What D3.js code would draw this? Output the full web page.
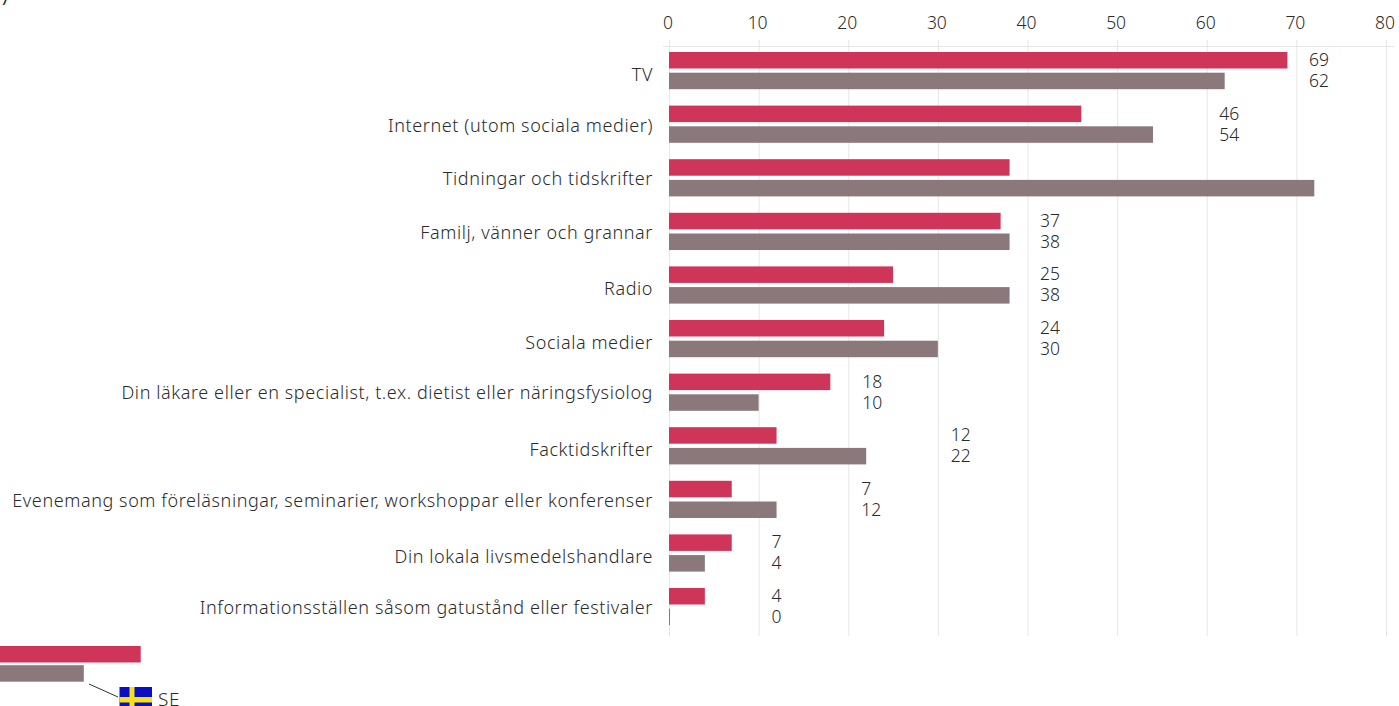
<!DOCTYPE html>
<html><head><meta charset="utf-8">
<script src="https://cdnjs.cloudflare.com/ajax/libs/d3/7.8.5/d3.min.js"></script>
<style>html,body{margin:0;padding:0;background:#fff;overflow:hidden}svg{display:block}
text{font-family:"Noto Sans",sans-serif;font-weight:300;fill:#2b2b2b}</style></head><body>
<svg id="c" width="1399" height="706"></svg>
<script>
const categories=["TV","Internet (utom sociala medier)","Tidningar och tidskrifter","Familj, vänner och grannar","Radio","Sociala medier","Din läkare eller en specialist, t.ex. dietist eller näringsfysiolog","Facktidskrifter","Evenemang som föreläsningar, seminarier, workshoppar eller konferenser","Din lokala livsmedelshandlare","Informationsställen såsom gatustånd eller festivaler"];
const seriesA=[69,46,38,37,25,24,18,12,7,7,4];
const seriesB=[62,54,72,38,38,30,10,22,12,4,0];
// Rows whose value labels appear in the picture, and where along the value axis they sit
const labelled=[1,1,0,1,1,1,1,1,1,1,1];
const labelAt=[71.4,61.4,0,41.4,41.4,41.4,21.55,31.45,21.45,11.45,11.45];
const ticks=[0,10,20,30,40,50,60,70,80];
const legendValues=[15.7,9.35];
const colors=["#cf3559","#8a787b"];
const legendCode="SE";
const fontSize=17.5;

const svg=d3.select("#c");
const x=d3.scaleLinear().domain([0,80]).range([669,1386]);
const rowY=d3.scaleLinear().domain([0,10]).range([52,588]);
const barH=16.5,gap=4.2;

const grid=svg.append("g");
grid.selectAll("line.v").data(ticks).join("line").attr("class","v")
 .attr("x1",d=>x(d)+.5).attr("x2",d=>x(d)+.5).attr("y1",40).attr("y2",636).attr("stroke","#e6e6e6");
grid.append("line").attr("x1",663).attr("x2",1394).attr("y1",46.5).attr("y2",46.5).attr("stroke","#e6e6e6");

svg.append("g").selectAll("text").data(ticks).join("text")
 .attr("x",d=>x(d)-1).attr("y",29).attr("text-anchor","middle").attr("font-size",fontSize).text(d=>d);

const rows=svg.append("g").selectAll("g").data(categories).join("g").attr("transform",(d,i)=>`translate(0,${rowY(i)})`);
rows.append("rect").attr("x",x(0)).attr("y",0).attr("height",barH).attr("width",(d,i)=>x(seriesA[i])-x(0)).attr("fill",colors[0]);
rows.append("rect").attr("x",x(0)).attr("y",barH+gap).attr("height",barH).attr("width",(d,i)=>Math.max(1,x(seriesB[i])-x(0))).attr("fill",colors[1]);

// Category labels are centred on their ink, so descenders lift the baseline a little
const ctx=document.createElement("canvas").getContext("2d");
ctx.font='300 18px "Noto Sans"';
rows.append("text").attr("x",653).attr("text-anchor","end").attr("font-size",18).attr("letter-spacing",.59)
 .attr("y",d=>{const m=ctx.measureText(d);return 22+(m.actualBoundingBoxAscent-1.6*m.actualBoundingBoxDescent)/2;}).text(d=>d);

rows.filter((d,i)=>labelled[i]).append("text").attr("x",d=>x(labelAt[categories.indexOf(d)])).attr("y",14).attr("font-size",fontSize).text(d=>seriesA[categories.indexOf(d)]);
rows.filter((d,i)=>labelled[i]).append("text").attr("x",d=>x(labelAt[categories.indexOf(d)])).attr("y",35).attr("font-size",fontSize).text(d=>seriesB[categories.indexOf(d)]);

svg.append("text").attr("x",2).attr("y",1.5).attr("font-size",18).style("font-weight",400).text(")");

const lg=svg.append("g");
lg.selectAll("rect").data(legendValues).join("rect").attr("x",0).attr("y",(d,i)=>646+i*19.2).attr("height",barH)
 .attr("width",d=>x(d)-x(0)).attr("fill",(d,i)=>colors[i]);
lg.append("line").attr("x1",89).attr("y1",684).attr("x2",118).attr("y2",697).attr("stroke","#333");
const f=lg.append("g").attr("transform","translate(119.5,687)");
f.append("rect").attr("width",32.5).attr("height",21).attr("fill","#0a0fc4");
f.append("rect").attr("x",10).attr("width",5).attr("height",21).attr("fill","#f5e21a");
f.append("rect").attr("y",10).attr("width",32.5).attr("height",5.5).attr("fill","#f5e21a");
lg.append("text").attr("x",158).attr("y",706).attr("font-size",19).attr("letter-spacing",.6).text(legendCode);
</script></body></html>
